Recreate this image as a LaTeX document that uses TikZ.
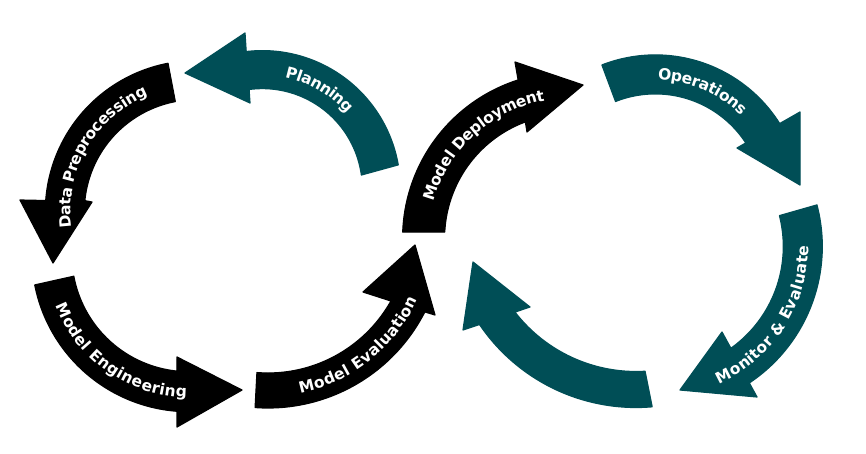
\documentclass[tikz,border=0pt]{standalone}
\usepackage{fontspec}
\setmainfont{DejaVu Sans}
\usetikzlibrary{decorations.text}
\definecolor{tealc}{HTML}{004E56}
% #1 cx, #2 cy, #3 r outer, #4 r inner, #5 outer tail angle, #6 outer base angle,
% #7 inner base angle, #8 inner tail angle, #9 head points
\newcommand{\bandarrow}[9]{plot[domain=#5:#6, samples=60, variable=\ang] ({#1+#3*cos(\ang)},{#2+#3*sin(\ang)}) -- #9 -- plot[domain=#7:#8, samples=60, variable=\ang] ({#1+#4*cos(\ang)},{#2+#4*sin(\ang)}) -- cycle}
\newcommand{\lblfmt}{\color{white}\bfseries\fontsize{15.5}{18}\selectfont}
\newcommand{\arclabel}[6]{\path[decorate, decoration={text along path, text align=center, raise=-5.6pt, text={|\lblfmt|#6}}] plot[domain=#4:#5, samples=90, variable=\ang] ({#1+#3*cos(\ang)},{#2+#3*sin(\ang)});}
\tikzset{
  blk/.style={fill=black, draw=black, line width=1.2pt, line join=round},
  tl/.style={fill=tealc, draw=tealc, line width=1.2pt, line join=round}
}
\begin{document}
\begin{tikzpicture}[x=1pt, y=-1pt]
\useasboundingbox (0,0) rectangle (866,453);
\fill[white] (0,0) rectangle (866,453);
% ---------- left loop ----------
% Planning
\filldraw[tl] \bandarrow{262.3}{188.6}{138}{100}{-9.9}{-96.7}{-97.6}{-7.8}{(245,33) -- (185,73) -- (250,103)};
% Data Preprocessing
\filldraw[blk] \bandarrow{196.3}{211.6}{151}{112}{-100.8}{-175.8}{-174.4}{-100.8}{(20,200) -- (53,263) -- (92,202)};
% Model Engineering
\filldraw[blk] \bandarrow{188.8}{254.7}{157}{117}{168.9}{94.3}{95.8}{169.4}{(177,427) -- (242,390) -- (177,357)};
% Model Evaluation
\filldraw[blk] \bandarrow{268}{232}{176}{141}{94.2}{27}{29.3}{94.5}{(435,315) -- (415,245) -- (363,292)};
% ---------- right loop ----------
% Model Deployment
\filldraw[blk] \bandarrow{568.6}{238.1}{166}{124}{182.1}{252.3}{249.6}{182.8}{(515,62) -- (583,85) -- (527,132)};
% Operations
\filldraw[tl] \bandarrow{655.3}{201.9}{147}{108}{248.7}{327.8}{326.9}{248.4}{(800,112) -- (800,185) -- (737,148)};
% Monitor & Evaluate
\filldraw[tl] \bandarrow{658.3}{246.5}{164}{125}{-14.7}{56.3}{54.5}{-14.3}{(757,397) -- (680,390) -- (722,332)};
% bottom return arrow
\filldraw[tl] \bandarrow{636}{218.5}{189}{153}{85.1}{145.9}{142.3}{86.6}{(463,330) -- (473,262) -- (530,307)};
% ---------- labels ----------
\arclabel{262.3}{188.6}{119}{-110}{-10}{Planning}
\arclabel{196.3}{211.6}{131.5}{150}{270}{Data Preprocessing}
\arclabel{188.8}{254.7}{137}{185}{65}{Model Engineering}
\arclabel{268}{232}{158.5}{111.5}{-8.5}{Model Evaluation}
\arclabel{568.6}{238.1}{145}{167.7}{287.7}{Model Deployment}
\arclabel{655.3}{201.9}{127.5}{238}{348}{Operations}
\arclabel{658.3}{246.5}{144.5}{93}{-27}{Monitor {\&} Evaluate}
\end{tikzpicture}
\end{document}
